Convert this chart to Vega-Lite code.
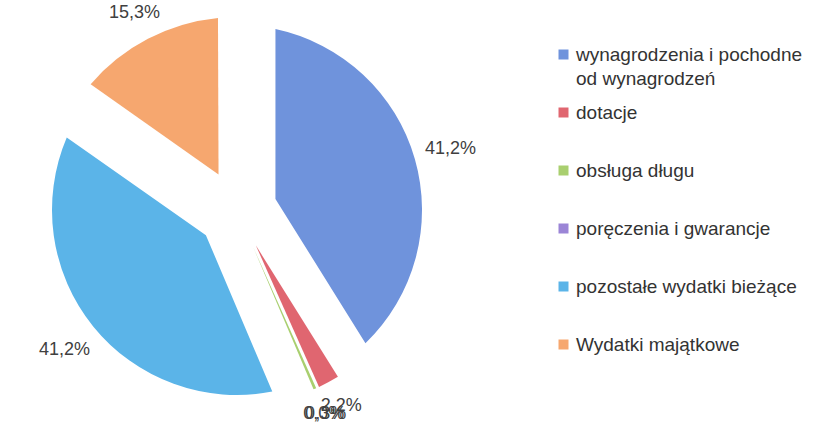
{
  "$schema": "https://vega.github.io/schema/vega-lite/v6.json",
  "width": 474,
  "height": 420,
  "padding": 0,
  "background": "white",
  "config": {
    "view": {"stroke": null},
    "locale": {"number": {"decimal": ",", "thousands": " ", "grouping": [3], "currency": ["", " zł"]}},
    "text": {"font": "Liberation Sans"}
  },
  "data": {
    "values": [
      {"category": "wynagrodzenia i pochodne od wynagrodzeń", "value": 0.412},
      {"category": "dotacje", "value": 0.022},
      {"category": "obsługa długu", "value": 0.003},
      {"category": "poręczenia i gwarancje", "value": 0.0},
      {"category": "pozostałe wydatki bieżące", "value": 0.412},
      {"category": "Wydatki majątkowe", "value": 0.153}
    ]
  },
  "transform": [
    {"window": [{"op": "row_number", "as": "idx"}]},
    {"stack": "value", "groupby": [], "sort": [{"field": "idx", "order": "ascending"}], "as": ["start", "end"]}
  ],
  "layer": [
    {
      "transform": [{"filter": {"field": "category", "equal": "wynagrodzenia i pochodne od wynagrodzeń"}}],
      "mark": {"type": "arc", "radius": 185, "radius2": 40, "padAngle": 0.4092},
      "encoding": {
        "theta": {"field": "start", "type": "quantitative", "scale": {"zero": true, "nice": false}},
        "theta2": {"field": "end"},
        "color": {
          "field": "category",
          "type": "nominal",
          "scale": {
            "domain": ["wynagrodzenia i pochodne od wynagrodzeń", "dotacje", "obsługa długu", "poręczenia i gwarancje", "pozostałe wydatki bieżące", "Wydatki majątkowe"],
            "range": ["#6f93dc", "#e06670", "#a9cf6f", "#9b85d6", "#5bb4e8", "#f6a76f"]
          },
          "legend": {
            "title": null,
            "orient": "none",
            "legendX": 554,
            "legendY": 45,
            "padding": 0,
            "symbolType": "square",
            "symbolSize": 100,
            "symbolStrokeWidth": 0,
            "labelFont": "Liberation Sans",
            "labelFontSize": 19,
            "labelColor": "#333333",
            "labelOffset": 3,
            "labelLimit": 400,
            "rowPadding": 14,
            "gridAlign": "all",
            "labelExpr": "datum.label == 'wynagrodzenia i pochodne od wynagrodzeń' ? ['wynagrodzenia i pochodne', 'od wynagrodzeń'] : datum.label",
            "encode": {"labels": {"update": {"lineHeight": {"value": 24}}}}
          }
        }
      }
    },
    {
      "transform": [{"filter": {"field": "category", "equal": "dotacje"}}],
      "mark": {"type": "arc", "radius": 195, "radius2": 40, "padAngle": 0.02773},
      "encoding": {
        "theta": {"field": "start", "type": "quantitative"},
        "theta2": {"field": "end"},
        "color": {"field": "category", "type": "nominal"}
      }
    },
    {
      "transform": [{"filter": {"field": "category", "equal": "obsługa długu"}}],
      "mark": {"type": "arc", "radius": 195, "radius2": 40, "padAngle": 0.003778},
      "encoding": {
        "theta": {"field": "start", "type": "quantitative"},
        "theta2": {"field": "end"},
        "color": {"field": "category", "type": "nominal"}
      }
    },
    {
      "transform": [{"filter": {"field": "category", "equal": "poręczenia i gwarancje"}}],
      "mark": {"type": "arc", "radius": 195, "radius2": 40},
      "encoding": {
        "theta": {"field": "start", "type": "quantitative"},
        "theta2": {"field": "end"},
        "color": {"field": "category", "type": "nominal"}
      }
    },
    {
      "transform": [{"filter": {"field": "category", "equal": "pozostałe wydatki bieżące"}}],
      "mark": {"type": "arc", "radius": 185, "radius2": 40, "padAngle": 0.4092},
      "encoding": {
        "theta": {"field": "start", "type": "quantitative"},
        "theta2": {"field": "end"},
        "color": {"field": "category", "type": "nominal"}
      }
    },
    {
      "transform": [{"filter": {"field": "category", "equal": "Wydatki majątkowe"}}],
      "mark": {"type": "arc", "radius": 193, "radius2": 40, "padAngle": 0.1933},
      "encoding": {
        "theta": {"field": "start", "type": "quantitative"},
        "theta2": {"field": "end"},
        "color": {"field": "category", "type": "nominal"}
      }
    },
    {
      "mark": {"type": "text", "radius": 222, "fontSize": 18, "font": "Liberation Sans", "fill": "#404040"},
      "encoding": {
        "theta": {"field": "value", "type": "quantitative", "stack": true},
        "detail": {"field": "category"},
        "order": {"field": "idx", "type": "quantitative"},
        "text": {"field": "value", "type": "quantitative", "format": ".1%"}
      }
    }
  ]
}
